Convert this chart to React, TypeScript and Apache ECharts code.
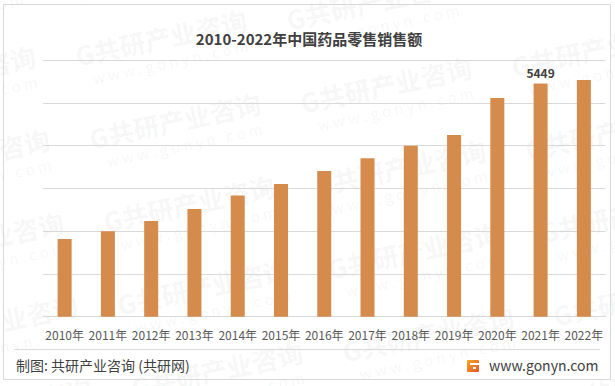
import React, { useEffect, useRef } from "react";
import * as echarts from "echarts";

const categories = [
  "2010年", "2011年", "2012年", "2013年", "2014年", "2015年", "2016年",
  "2017年", "2018年", "2019年", "2020年", "2021年", "2022年",
];
const salesValues = [1815, 2000, 2235, 2515, 2830, 3100, 3405, 3705, 3995, 4245, 5110, 5449, 5530];
const labeledCategories = ["2021年"];
const titleText = "2010-2022年中国药品零售销售额";
const sourceText = "制图: 共研产业咨询 (共研网)";
const siteText = "www.gonyn.com";

const FONT = "'Noto Sans CJK SC', 'Noto Sans', sans-serif";

function buildWatermarks(): any[] {
  const items: any[] = [];
  for (let i = -2; i <= 4; i++) {
    for (let j = -1; j <= 2; j++) {
      const cx = 175 + j * 225 + i * 14;
      const cy = 120 + j * 47 + i * 83;
      if (cx < -120 || cx > 740 || cy < -60 || cy > 450) continue;
      items.push({
        type: "group",
        x: cx,
        y: cy,
        rotation: 0.21,
        silent: true,
        z: -10,
        children: [
          {
            type: "text",
            x: 0,
            y: 0,
            style: {
              text: "G共研产业咨询",
              font: `bold 26px ${FONT}`,
              fill: "rgba(0,0,0,0.05)",
              align: "center",
              verticalAlign: "middle",
            },
          },
          {
            type: "text",
            x: 4,
            y: 26,
            style: {
              text: "w w w . g o n y n . c o m",
              font: `15px ${FONT}`,
              fill: "rgba(0,0,0,0.05)",
              align: "center",
              verticalAlign: "middle",
            },
          },
        ],
      });
    }
  }
  return items;
}

export default function App() {
  const ref = useRef<HTMLDivElement>(null);

  useEffect(() => {
    if (!ref.current) return;
    const chart = echarts.init(ref.current, null, { renderer: "svg" });
    const data = salesValues.map((v, i) => ({
      value: v,
      label: { show: labeledCategories.includes(categories[i]) },
    }));
    chart.setOption({
      animation: false,
      backgroundColor: "#ffffff",
      grid: { left: 43, right: 9.5, top: 60, bottom: 69.3 },
      xAxis: {
        type: "category",
        data: categories,
        axisLine: { show: true, lineStyle: { color: "#d9d9d9", width: 1 } },
        axisTick: { show: false },
        axisLabel: { color: "#595959", fontSize: 12, fontFamily: FONT, margin: 12, interval: 0 },
      },
      yAxis: {
        type: "value",
        min: 0,
        max: 6000,
        interval: 1000,
        axisLine: { show: false },
        axisTick: { show: false },
        axisLabel: { show: false },
        splitLine: { show: true, lineStyle: { color: "#d9d9d9", width: 1 } },
      },
      series: [
        {
          type: "bar",
          data,
          barWidth: 14,
          itemStyle: { color: "#D48B4C" },
          label: {
            position: "top",
            distance: 5,
            color: "#404040",
            fontSize: 12,
            fontWeight: "bold",
            fontFamily: FONT,
          },
        },
      ],
      graphic: [
        ...buildWatermarks(),
        {
          type: "rect",
          shape: { x: 3.5, y: 4.5, width: 607, height: 375 },
          style: { fill: "none", stroke: "#d9d9d9", lineWidth: 1 },
          silent: true,
          z: 5,
        },
        {
          type: "text",
          x: 309,
          y: 38,
          style: {
            text: titleText,
            font: `bold 15px ${FONT}`,
            fill: "#404040",
            align: "center",
            verticalAlign: "middle",
          },
          z: 5,
        },
        {
          type: "line",
          shape: { x1: 14, y1: 349.5, x2: 600, y2: 349.5 },
          style: { stroke: "#d9d9d9", lineWidth: 1 },
          z: 5,
        },
        {
          type: "text",
          x: 16,
          y: 365,
          style: {
            text: sourceText,
            font: `14px ${FONT}`,
            fill: "#404040",
            align: "left",
            verticalAlign: "middle",
          },
          z: 5,
        },
        {
          type: "group",
          x: 467,
          y: 360,
          z: 5,
          children: [
            {
              type: "rect",
              shape: { x: 0, y: 0, width: 12, height: 12, r: 1 },
              style: {
                fill: new echarts.graphic.LinearGradient(0, 0, 1, 1, [
                  { offset: 0, color: "#F5A623" },
                  { offset: 1, color: "#E8552A" },
                ]),
              },
            },
            {
              type: "rect",
              shape: { x: 3, y: 3, width: 9, height: 2 },
              style: { fill: "#ffffff" },
            },
            {
              type: "rect",
              shape: { x: 6, y: 7, width: 3, height: 2 },
              style: { fill: "#ffffff" },
            },
          ],
        },
        {
          type: "text",
          x: 489,
          y: 365,
          style: {
            text: siteText,
            font: `14px ${FONT}`,
            fill: "#404040",
            align: "left",
            verticalAlign: "middle",
          },
          z: 5,
        },
      ],
    });
    return () => chart.dispose();
  }, []);

  return (
    <div
      ref={ref}
      style={{ position: "fixed", left: 0, top: 0, width: 615, height: 386 }}
    />
  );
}
